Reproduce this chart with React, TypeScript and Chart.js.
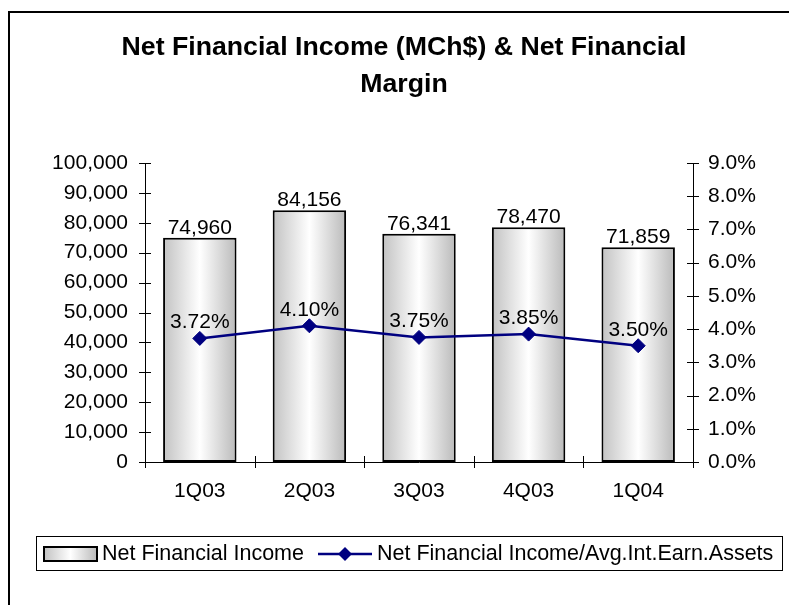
import React, { useEffect, useRef } from "react";
import { Chart, registerables } from "chart.js";

Chart.register(...registerables);

const categories = ["1Q03", "2Q03", "3Q03", "4Q03", "1Q04"];
const incomeValues = [74960, 84156, 76341, 78470, 71859];
const marginValues = [3.72, 4.1, 3.75, 3.85, 3.5];
const titleLines = ["Net Financial Income (MCh$) & Net Financial", "Margin"];
const barSeriesLabel = "Net Financial Income";
const lineSeriesLabel = "Net Financial Income/Avg.Int.Earn.Assets";
const leftMax = 100000;
const leftStep = 10000;
const rightMax = 9;
const rightStep = 1;

const FONT = "'Liberation Sans', Arial, Helvetica, sans-serif";
const W = 789;
const H = 605;
const AREA = { left: 145, right: 693, top: 163, bottom: 462 };
const BAR_PCT = 0.67;
const NAVY = "#000080";
const TEXT_SIZE = 21;
const LEGEND_SIZE = 21.5;
const TITLE_SIZE = 26.7;

function barGradient(ctx: CanvasRenderingContext2D, x0: number, x1: number) {
  if (!isFinite(x0) || !isFinite(x1) || x1 <= x0) return "#dddddd";
  const g = ctx.createLinearGradient(x0, 0, x1, 0);
  g.addColorStop(0, "#c2c2c2");
  g.addColorStop(0.5, "#ffffff");
  g.addColorStop(1, "#bababa");
  return g;
}

function drawDiamond(ctx: CanvasRenderingContext2D, x: number, y: number, r: number) {
  ctx.beginPath();
  ctx.moveTo(x, y - r);
  ctx.lineTo(x + r, y);
  ctx.lineTo(x, y + r);
  ctx.lineTo(x - r, y);
  ctx.closePath();
  ctx.fillStyle = NAVY;
  ctx.fill();
}

const decorPlugin = {
  id: "decor",
  afterDraw(chart: any) {
    const ctx: CanvasRenderingContext2D = chart.ctx;
    const xs = chart.scales.x;
    const ys = chart.scales.y;
    const y1 = chart.scales.y1;
    ctx.save();

    ctx.strokeStyle = "#000";
    ctx.lineWidth = 1;
    ctx.beginPath();
    ys.ticks.forEach((t: any) => {
      const p = Math.round(ys.getPixelForValue(t.value)) + 0.5;
      ctx.moveTo(xs.left - 6, p);
      ctx.lineTo(xs.left + 6, p);
    });
    y1.ticks.forEach((t: any) => {
      const p = Math.round(y1.getPixelForValue(t.value)) + 0.5;
      ctx.moveTo(xs.right - 6, p);
      ctx.lineTo(xs.right + 6, p);
    });
    const step = xs.width / categories.length;
    for (let i = 0; i <= categories.length; i++) {
      const p = Math.round(xs.left + i * step) + 0.5;
      ctx.moveTo(p, ys.bottom - 6);
      ctx.lineTo(p, ys.bottom + 6);
    }
    ctx.stroke();

    ctx.fillStyle = "#000";
    ctx.font = `bold ${TITLE_SIZE}px ${FONT}`;
    ctx.textAlign = "center";
    ctx.textBaseline = "middle";
    ctx.fillText(titleLines[0], 404, 48);
    ctx.fillText(titleLines[1], 404, 85);

    ctx.font = `${TEXT_SIZE}px ${FONT}`;
    ctx.textBaseline = "alphabetic";
    const barMeta = chart.getDatasetMeta(1);
    barMeta.data.forEach((el: any, i: number) => {
      ctx.fillText(incomeValues[i].toLocaleString("en-US"), el.x, el.y - 4);
    });
    const lineMeta = chart.getDatasetMeta(0);
    lineMeta.data.forEach((el: any, i: number) => {
      ctx.fillText(marginValues[i].toFixed(2) + "%", el.x, el.y - 10);
    });

    ctx.strokeStyle = "#000";
    ctx.lineWidth = 1;
    ctx.strokeRect(36.5, 536.5, 746, 34);
    ctx.fillStyle = barGradient(ctx, 44, 97);
    ctx.fillRect(44, 547, 53, 14);
    ctx.lineWidth = 2;
    ctx.strokeRect(44, 547, 53, 14);
    ctx.fillStyle = "#000";
    ctx.font = `${LEGEND_SIZE}px ${FONT}`;
    ctx.textAlign = "left";
    ctx.textBaseline = "middle";
    ctx.fillText(barSeriesLabel, 102, 554);
    ctx.strokeStyle = NAVY;
    ctx.lineWidth = 2.5;
    ctx.beginPath();
    ctx.moveTo(318, 554);
    ctx.lineTo(372, 554);
    ctx.stroke();
    drawDiamond(ctx, 345, 554, 7);
    ctx.fillStyle = "#000";
    ctx.fillText(lineSeriesLabel, 377, 554);

    ctx.restore();
  },
};

export default function App() {
  const ref = useRef<HTMLCanvasElement>(null);
  useEffect(() => {
    if (!ref.current) return;
    const chart = new Chart(ref.current, {
      type: "bar",
      data: {
        labels: categories,
        datasets: [
          {
            type: "line",
            label: lineSeriesLabel,
            data: marginValues,
            yAxisID: "y1",
            order: 0,
            borderColor: NAVY,
            borderWidth: 2.5,
            pointStyle: "rectRot",
            pointRadius: 7,
            pointBackgroundColor: NAVY,
            pointBorderColor: NAVY,
            pointBorderWidth: 1,
            tension: 0,
          } as any,
          {
            type: "bar",
            label: barSeriesLabel,
            data: incomeValues,
            yAxisID: "y",
            order: 1,
            barPercentage: BAR_PCT,
            categoryPercentage: 1,
            borderColor: "#000",
            borderWidth: 2,
            borderSkipped: false,
            backgroundColor: (c: any) => {
              const chart = c.chart;
              const xs = chart.scales && chart.scales.x;
              if (!xs || c.dataIndex === undefined) return "#dddddd";
              const cx = xs.getPixelForValue(c.dataIndex);
              const w = (xs.width / categories.length) * BAR_PCT;
              return barGradient(chart.ctx, cx - w / 2, cx + w / 2);
            },
          } as any,
        ],
      },
      options: {
        responsive: false,
        animation: false,
        devicePixelRatio: 1,
        layout: { padding: { top: AREA.top, left: 0, right: 0, bottom: 0 } },
        plugins: {
          legend: { display: false },
          title: { display: false },
          tooltip: { enabled: false },
        },
        scales: {
          x: {
            type: "category",
            position: "bottom",
            offset: true,
            grid: { display: false, drawTicks: false },
            border: { display: true, color: "#000", width: 1 },
            ticks: {
              color: "#000",
              font: { family: FONT, size: TEXT_SIZE },
              padding: 17,
              maxRotation: 0,
              autoSkip: false,
            },
            afterFit: (s: any) => {
              s.height = H - AREA.bottom;
            },
          },
          y: {
            position: "left",
            min: 0,
            max: leftMax,
            grid: { display: false, drawTicks: false },
            border: { display: true, color: "#000", width: 1 },
            ticks: {
              stepSize: leftStep,
              color: "#000",
              font: { family: FONT, size: TEXT_SIZE },
              padding: 17,
              callback: (v: any) => Number(v).toLocaleString("en-US"),
            },
            afterFit: (s: any) => {
              s.width = AREA.left;
            },
          },
          y1: {
            position: "right",
            min: 0,
            max: rightMax,
            grid: { display: false, drawTicks: false },
            border: { display: true, color: "#000", width: 1 },
            ticks: {
              stepSize: rightStep,
              color: "#000",
              font: { family: FONT, size: TEXT_SIZE },
              padding: 15,
              callback: (v: any) => Number(v).toFixed(1) + "%",
            },
            afterFit: (s: any) => {
              s.width = W - AREA.right;
            },
          },
        },
      } as any,
      plugins: [decorPlugin],
    });
    return () => chart.destroy();
  }, []);

  return (
    <div
      style={{
        position: "fixed",
        left: 0,
        top: 0,
        width: W,
        height: H,
        overflow: "hidden",
        background: "#fff",
      }}
    >
      <div
        style={{
          position: "absolute",
          left: 8,
          top: 11,
          width: 900,
          height: 700,
          border: "2px solid #000",
          boxSizing: "border-box",
        }}
      />
      <canvas
        ref={ref}
        width={W}
        height={H}
        style={{ position: "absolute", left: 0, top: 0, width: W, height: H }}
      />
    </div>
  );
}
